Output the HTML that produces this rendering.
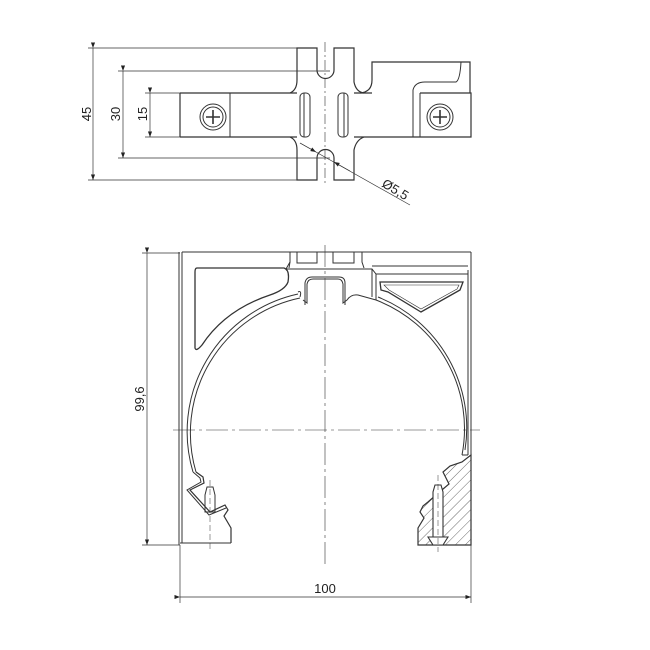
<!DOCTYPE html>
<html><head><meta charset="utf-8"><style>
html,body{margin:0;padding:0;background:#fff;}
svg{display:block}
text{font-family:"Liberation Sans",sans-serif;font-size:13px;fill:#222}
</style></head><body>
<svg width="650" height="650" viewBox="0 0 650 650" xmlns="http://www.w3.org/2000/svg">
<defs>
<pattern id="h" width="7" height="7" patternUnits="userSpaceOnUse" patternTransform="rotate(45)">
<line x1="0" y1="0" x2="0" y2="7" stroke="#444" stroke-width="0.8"/></pattern>
<marker id="a" markerWidth="8" markerHeight="6" refX="8" refY="3" orient="auto"><path d="M0,0 L8,3 L0,6z" fill="#222"/></marker>
</defs>
<g fill="none" stroke="#333" stroke-width="1">
<line x1="88" y1="48" x2="297" y2="48" stroke-width="0.7"/>
<line x1="88" y1="180" x2="297" y2="180" stroke-width="0.7"/>
<line x1="93" y1="48" x2="93" y2="180" stroke-width="0.7" marker-start="url(#a)" marker-end="url(#a)"/>
<line x1="118" y1="71" x2="330" y2="71" stroke-width="0.7"/>
<line x1="118" y1="158" x2="330" y2="158" stroke-width="0.7"/>
<line x1="123" y1="71" x2="123" y2="158" stroke-width="0.7" marker-start="url(#a)" marker-end="url(#a)"/>
<line x1="145" y1="93" x2="180" y2="93" stroke-width="0.7"/>
<line x1="145" y1="137" x2="180" y2="137" stroke-width="0.7"/>
<line x1="150" y1="93" x2="150" y2="137" stroke-width="0.7" marker-start="url(#a)" marker-end="url(#a)"/>
<path d="M180,93 H297 M354,93 H372 M180,137 H297 M354,137 H471 V93 H420" stroke-width="1.2"/>
<line x1="180" y1="93" x2="180" y2="137" stroke-width="1.2"/>
<line x1="230" y1="93" x2="230" y2="137"/>
<line x1="420" y1="93" x2="420" y2="137"/>
<line x1="413" y1="93" x2="413" y2="137"/>
<path d="M290,93 Q297,90 297,80 V48 H317 V70 A8.5,8.5 0 0 0 334,70 V48 H354 V82 Q356,92 364,93" stroke-width="1.2"/>
<path d="M290,137 Q297,140 297,150 V180 H317 V158 A8.5,8.5 0 0 1 334,158 V180 H354 V150 Q356,140 364,137" stroke-width="1.2"/>
<rect x="300" y="93" width="10" height="44" rx="4"/>
<rect x="338" y="93" width="10" height="44" rx="4"/>
<line x1="304" y1="93" x2="304" y2="137"/><line x1="344" y1="93" x2="344" y2="137"/>
<path d="M360,93 Q372,92 372,80 V62 H470 V93" stroke-width="1.2"/>
<path d="M413,93 V90 Q415,82 425,82 H456 Q460,80 461,62"/>
<circle cx="213" cy="117" r="13"/><circle cx="213" cy="117" r="10"/>
<path d="M206,117 H220 M213,110 V124" stroke-width="1.6"/>
<circle cx="440" cy="117" r="13"/><circle cx="440" cy="117" r="10"/>
<path d="M433,117 H447 M440,110 V124" stroke-width="1.6"/>
<line x1="325" y1="42" x2="325" y2="186" stroke-width="0.6" stroke-dasharray="10,3,2,3"/>
<line x1="300" y1="143" x2="410" y2="205" stroke-width="0.7"/>
<line x1="300" y1="143" x2="316" y2="152" stroke-width="0.7" marker-end="url(#a)"/>
<line x1="350" y1="171" x2="334" y2="162" stroke-width="0.7" marker-end="url(#a)"/>

<line x1="142" y1="253" x2="180" y2="253" stroke-width="0.7"/>
<line x1="142" y1="545" x2="180" y2="545" stroke-width="0.7"/>
<line x1="147" y1="253" x2="147" y2="545" stroke-width="0.7" marker-start="url(#a)" marker-end="url(#a)"/>
<line x1="180" y1="545" x2="180" y2="603" stroke-width="0.7"/>
<line x1="471" y1="545" x2="471" y2="603" stroke-width="0.7"/>
<line x1="180" y1="597" x2="471" y2="597" stroke-width="0.7" marker-start="url(#a)" marker-end="url(#a)"/>
<line x1="179" y1="252" x2="179" y2="545"/>
<line x1="182" y1="252" x2="182" y2="543"/>
<line x1="182" y1="252" x2="471" y2="252"/>
<line x1="471" y1="252" x2="471" y2="545"/>
<line x1="468" y1="270" x2="468" y2="455"/>
<line x1="180" y1="543" x2="231" y2="543"/>
<line x1="418" y1="545" x2="471" y2="545"/>
<path d="M290,252 V262 L289,268 M362,252 V262 L364,268"/>
<path d="M297,252 V263 H317 V252 M333,252 V263 H354 V252"/>
<path d="M290,262 L286,269 H372 L376,274 H468"/>
<line x1="372" y1="269" x2="372" y2="297"/>
<line x1="376" y1="274" x2="376" y2="300"/>
<line x1="372" y1="266" x2="468" y2="266"/>
<path d="M197,268 H284 Q290,270 288,282 Q285,290 270,295 Q225,310 202,345 Q196,352 195,348 V272 Q195,268 197,268z" stroke-width="1.3"/>
<path d="M380,282 H463 L460,290 L421,312 L388,292 L381,290z" stroke-width="1.3"/>
<path d="M384,285 H459 L457,289 L421,309 L389,290z" stroke-width="0.6"/>
<path d="M303,300 L307,303 V284 Q308,279 313,279 H338 Q342,279 343,284 V303 L347,300 Q351,294 358,295 L376,300"/>
<path d="M300,297 Q302,290 298,292 M305,305 V283 Q306,277 312,277 H339 Q345,277 345,283 V305"/>
<path d="M300,298 A138,138 0 0 0 196,472"/>
<path d="M298,294 A141,141 0 0 0 193,472"/>
<path d="M376,300 A138,138 0 0 1 462,455"/>
<path d="M378,297 A141,141 0 0 1 465,450"/>
<line x1="462" y1="455" x2="468" y2="455"/>
<path d="M196,472 L203,477 L204,483 L190,490 L210,512 L225,505 L228,510 L224,516 L231,528 V543" stroke-width="1.2"/>
<path d="M193,472 L200,478 L201,482 L187,490 L209,515 L226,508"/>
<path d="M205,495 L207,487 H213 L215,495 V512 H205z"/>
<path d="M471,455 L462,462 L450,466 L443,472 L446,478 L449,484 L436,495 L428,502 L423,506 L420,512 L424,518 L418,528 V545 H471z" fill="url(#h)" stroke-width="1.2"/>
<path d="M433,545 L428,537 H448 L443,545z M433,537 V492 L435,485 H441 L443,492 V537" fill="#fff" stroke-width="1.1"/>
<line x1="325" y1="245" x2="325" y2="565" stroke-width="0.6" stroke-dasharray="22,4,3,4"/>
<line x1="173" y1="430" x2="480" y2="430" stroke-width="0.6" stroke-dasharray="22,4,3,4"/>
<line x1="210" y1="480" x2="210" y2="552" stroke-width="0.5" stroke-dasharray="6,3"/>
<line x1="438" y1="475" x2="438" y2="552" stroke-width="0.5" stroke-dasharray="6,3"/>
</g>
<text transform="translate(91,114) rotate(-90)" text-anchor="middle">45</text>
<text transform="translate(120,114) rotate(-90)" text-anchor="middle">30</text>
<text transform="translate(147,114) rotate(-90)" text-anchor="middle">15</text>
<text transform="translate(381,186) rotate(31)">Ø5,5</text>
<text transform="translate(144,399) rotate(-90)" text-anchor="middle">99,6</text>
<text x="325" y="593" text-anchor="middle">100</text>
</svg>
</body></html>
